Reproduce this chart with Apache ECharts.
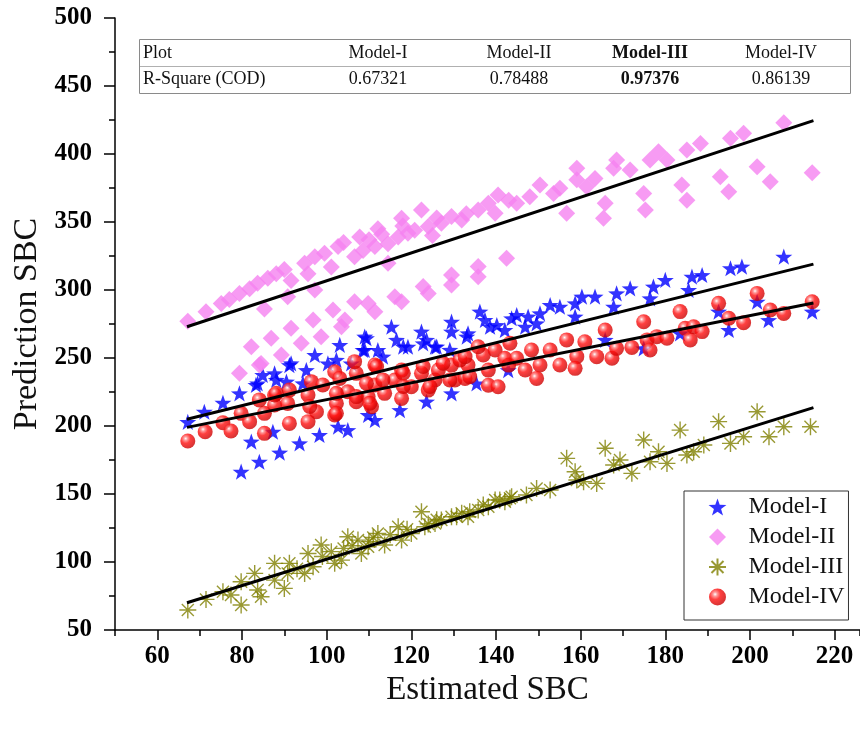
<!DOCTYPE html>
<html>
<head>
<meta charset="utf-8">
<script src="https://cdn.jsdelivr.net/npm/echarts@6/dist/echarts.min.js"></script>
<style>html,body{margin:0;padding:0;background:#fff}#c{width:860px;height:729px}</style>
</head>
<body>
<div id="c"></div>
<script>
// ---- data ----
const seriesNames = ['Model-I', 'Model-II', 'Model-III', 'Model-IV'];
const xTickLabels = [60, 80, 100, 120, 140, 160, 180, 200, 220];
const tableHeader = ['Plot', 'Model-I', 'Model-II', 'Model-III', 'Model-IV'];
const tableRSquare = ['R-Square (COD)', '0.67321', '0.78488', '0.97376', '0.86139'];

const model1 = [[67.2,203],[71.1,210.5],[75.5,217.1],[79.4,224],[79.8,166.4],[84.1,173.7],[82.2,188.5],[88.9,180.4],[93.6,187.2],[98.3,193.4],[102.7,199.5],[105,197],[87.3,195.8],[83.7,231.3],[87.7,238.7],[91.2,244.8],[95.2,241.1],[90.5,232.6],[111.4,204.4],[109.8,208.1],[117.3,211.7],[123.6,217.9],[129.5,224],[135.4,231.3],[142.9,241.1],
[91.6,246.1],[97.2,252.2],[103.1,259.6],[109,265.7],[109,255.9],[112.1,255.9],[115.3,273],[116.5,263.3],[119.2,258.3],[122.4,269.4],[122.8,260.8],[125.6,258.3],[129.5,276.7],[129.5,269.4],[133.4,268.1],[136.2,284.1],[137.4,278],[140.2,274.2],[142.1,270.6],[143.7,279.2],[100.3,246],[105.8,246],
[109.4,264.5],[84.9,237.5],[88.1,233.9],[83.3,230.2],[94.4,231.4],[102.3,248.6],[108.6,255.9],[113.3,251],[118.1,258.4],[123.6,263.3],[126,258.4],[129.1,256],[133.1,265.7],[138.6,273],
[144.9,281.6],[147.6,280.4],[146.9,273],[149.6,275.5],[150.4,282.8],[152.8,289],[155.1,287.7],[158.7,290.2],[160.3,295.1],[163.4,295.1],[158.7,280.4],[167.8,287.7],[168.5,297.5],[171.7,301.2],[176.4,293.9],[177.2,302.5],[180,307.4],[185.5,300],[186.3,309.8],[188.7,311],[195.4,316],[198.1,317.2],[208,324.5],
[165.8,263.3],[174.9,257.1],[183.5,268.1],[195,270.6],[201.7,291.4],[204.4,277.9],[214.7,284.1],[192.6,284.1]];

const model2 = [[67.2,277],[71.5,284],[75.1,290],[77,293],[79.4,297.5],[81.8,301],[83.7,305],[86.1,308.6],[88.1,312],[90,315],[91.6,307],[90.8,295],[85.3,286],[94.8,319.6],[97.2,324.5],[99.5,327],[102.7,332],[101.1,317],[95.6,312],[97.2,300],[107.8,339],[106.6,324.5],[108.6,329],[112.1,345],[111.4,332],[114.5,334],[114.5,319.6],[117.7,352.7],[116.9,339],[119.2,341.7],[122.4,358.8],[120.8,344],[124,346.6],[127.1,349],[129.5,354],[131.9,351.5],[135.8,358.8],[138.2,363.7],[140.5,369.8],[143,366],[139.8,356.4],
[104,335],[110,337],[113,341],[118,347],[126,353],[133,356],[125,340],
[82.2,258.3],[86.9,264.5],[84.5,246],[91.6,271.8],[89.3,252.2],[94,260.8],[96.8,278],[98.7,265.7],[101.5,285.3],[103.5,273],[104.3,278],[106.6,291.4],[109.8,290],[111.4,284],[116.1,295],[117.7,291.4],[122.8,302.5],[124,297.5],[129.5,311],[129.5,303.7],[135.8,317.2],[135.8,309.8],[142.5,323.3],[79.4,238.7],[84.1,244.8],
[144.9,363.7],[148,368.6],[150.4,377.2],[153.6,371],[155.1,374.8],[156.7,356.4],[159.1,389.5],[159.1,381],[161.4,376],[163.4,382],[165.4,352.7],[165.8,363.7],[167.8,389.5],[168.5,395.6],[171.7,388.2],[174.9,371],[175.3,358.8],[176.4,395.6],[178.4,401.7],[180.4,395.6],[183.9,377.2],[185.1,366],[185.1,403],[188.3,407.8],[193,383.3],[195,372.3],[195.4,411.5],[198.5,415.2],[201.7,390.7],[204.8,379.6],[208,423],[214.7,386.3]];

const model3 = [[67.2,64.7],[71.5,72.5],[75.5,78.2],[77.4,75.7],[79.8,68.4],[79.8,85.5],[83.7,79.4],[84.5,74.5],[83,91.6],[87.7,99],[87.7,86.7],[90,80.6],[90.8,91.6],[91.2,99],[94.8,91.6],[95.6,106.3],[96.8,96.5],[98.7,112.5],[101.1,107.6],[101.9,99],[103.5,101.4],[105,118.6],[107.4,116.1],[108.2,106.3],[109.8,111.2],[112.1,121],[113.7,112.5],[116.9,125.9],[117.7,116.1],[120,121],[122.4,137],[123.2,125.9],[125.6,128.4],[127.1,130.9],[129.5,133.3],[131.9,135.8],[133.4,133.3],[135.8,138.2],[138.2,140.7],[139.8,145.6],[142.1,144.3],[143.7,148],
[93,95],[99,104],[104,110],[110,115],[115,120],[119,124],[126,131],[111,118],[106,112],[124,128],
[156.7,176.2],[158.7,166.4],[160.7,159],[165.8,183.6],[167.8,171.3],[169.3,175],[172.1,165.2],[174.9,189.7],[176.4,173.7],[178.4,181.1],[180.4,172.5],[183.5,197],[185.1,178.7],[186.7,181.1],[189.1,186],[192.6,203.2],[195.4,187.2],[198.5,192.1],[201.7,210.5],[204.5,192.1],[208,199.5],[214.3,199.5],
[152.8,152.9],[147.2,149.3],[149.6,154.1],[143.3,146.8],[140.9,145.6],[137,141.9],[133.8,137],[130.7,133.3],[163.8,157.8],[159.1,160.3]];

const model4 = [[67.2,189],[71.3,195.8],[75.5,202.4],[77.4,196.3],[79.8,209.3],[81.8,203.2],[85.3,194.6],[85.3,209.3],[87.7,215.4],[87.7,222.8],[91.2,201.9],[90.8,216.6],[91.2,226.4],[95.6,203.2],[95.6,222.8],[96.4,232.6],[97.6,210.5],[99.1,230.1],[101.9,208.1],[102.3,216.6],[101.9,239.9],[103.1,235],[105,225.2],[107,217.9],[107,238.7],[110.6,214.2],[109.8,221.5],[111.4,230.1],[111.4,244.8],[113.7,224],[116.1,233.8],[117.7,220.3],[117.7,241.1],[120,228.9],[122.4,238.7],[124,226.4],[125.6,233.8],[126.4,241.1],[129.5,244.8],[130.3,233.8],[132.7,235],[133.4,244.8],[138.2,230],[140.5,228.9],[138.2,241.1],[143,244.8],[106.6,247.3],
[111.8,243.7],[118.1,238.8],[122.8,243.7],[127.5,246.1],[131.5,248.6],[137,252.2],[88.1,224],[84.1,219.2],[109.4,231.4],[113.3,233.9],[118.1,229],[124.4,229],[129.1,233.9],[133.8,236.3],[102.3,224],[107,221.6],[110.2,216.7],[96,214.3],[102.3,209.3],
[132.7,251],[135.8,258.3],[139.8,255.9],[142.1,249.8],
[143.3,260.8],[144.9,249.8],[148.4,255.9],[152.8,255.9],[150.4,244.9],[156.7,263.3],[155.1,244.9],[159.1,251],[161,262],[163.8,251],[165.8,270.6],[167.4,249.8],[168.5,257.1],[172.1,257.8],[174.9,276.7],[175.7,263.3],[176.4,255.9],[178,265.7],[180.4,264.5],[183.5,284.1],[184.7,271.8],[185.9,263.3],[186.7,273],[188.7,269.4],[192.6,290.2],[195,279.2],[198.5,276],[201.7,297.5],[204.8,285.3],[208,282.8],[214.7,291.4],
[146.9,241.2],[149.6,235],[158.7,242.4]];

// fitted regression lines (end points)
const fitX = [67, 215];
const fit1 = [205, 319];
const fit2 = [273, 424.5];
const fit3 = [70, 213.5];
const fit4 = [199, 290.5];

// ---- styling ----
const FONT = "'Liberation Serif','Times New Roman',serif";
const starPath = 'path://M0,-10L2.35,-3.24L9.51,-3.09L3.8,1.24L5.88,8.09L0,4L-5.88,8.09L-3.8,1.24L-9.51,-3.09L-2.35,-3.24Z';
const diamondPath = 'path://M10,0L20,10L10,20L0,10Z';
const asteriskPath = 'path://M10,0L10,20M0,10L20,10M2.93,2.93L17.07,17.07M2.93,17.07L17.07,2.93';
const sphere = {type:'radial', x:0.36, y:0.34, r:0.7, colorStops:[
  {offset:0, color:'#ffffff'},{offset:0.18, color:'#ff8080'},{offset:0.45, color:'#ff1010'},{offset:1, color:'#c80000'}]};

function fitLine(fy) { return fitX.map((x, i) => [x, fy[i]]); }

const chart = echarts.init(document.getElementById('c'), null, {renderer:'canvas'});

const colX = [143, 378, 519, 650, 781];
const tableGraphics = [
  {type:'rect', shape:{x:139.5, y:39.5, width:711, height:54}, style:{fill:'#fff', stroke:'#8a8a8a', lineWidth:1}, z:100},
  {type:'line', shape:{x1:140, y1:66.5, x2:850, y2:66.5}, style:{stroke:'#b0b0b0', lineWidth:1}, z:100}
];
[tableHeader, tableRSquare].forEach((row, r) => {
  row.forEach((t, c) => {
    tableGraphics.push({type:'text', x:colX[c], y: r === 0 ? 53 : 79, z:101,
      style:{text:t, fill:'#111', font:(c===3?'bold ':'') + '18px ' + FONT,
        align: c===0 ? 'left' : 'center', verticalAlign:'middle'}});
  });
});

const option = {
  animation:false,
  backgroundColor:'#fff',
  grid:{left:115, right:0, top:18, bottom:99, containLabel:false},
  xAxis:[{
    type:'value', min:50, max:226, interval:10,
    name:'Estimated SBC', nameLocation:'middle', nameGap:40,
    nameTextStyle:{fontFamily:FONT, fontSize:33, color:'#111'},
    axisLine:{show:true, lineStyle:{color:'#000', width:1.5}},
    axisTick:{show:true, length:10, lineStyle:{color:'#000', width:1.5}, customValues:xTickLabels},
    axisLabel:{show:true, customValues:xTickLabels, margin:14, fontFamily:FONT, fontWeight:'bold', fontSize:25, color:'#000'},
    splitLine:{show:false}
  },{
    type:'value', min:50, max:226, interval:10, position:'bottom',
    axisLine:{show:false},
    axisTick:{show:true, length:6, lineStyle:{color:'#000', width:1.5}},
    axisLabel:{show:false}, splitLine:{show:false}
  }],
  yAxis:{
    type:'value', min:50, max:500, interval:50,
    name:'Prediction SBC', nameLocation:'middle', nameGap:66,
    nameTextStyle:{fontFamily:FONT, fontSize:34, color:'#111'},
    axisLine:{show:true, lineStyle:{color:'#000', width:1.5}},
    axisTick:{show:true, length:11, lineStyle:{color:'#000', width:1.5}},
    minorTick:{show:true, splitNumber:2, length:6, lineStyle:{color:'#000', width:1.5}},
    axisLabel:{margin:23, fontFamily:FONT, fontWeight:'bold', fontSize:25, color:'#000'},
    splitLine:{show:false}
  },
  legend:{
    data:seriesNames, orient:'vertical', left:684, top:491,
    itemWidth:52, itemHeight:17, itemGap:6,
    padding:[4,4,11,24],
    backgroundColor:'#fff', borderColor:'#333', borderWidth:1,
    textStyle:{fontFamily:FONT, fontSize:24, color:'#111'},
    symbolKeepAspect:true, z:110
  },
  graphic:tableGraphics,
  series:[
    {name:'Model-I', type:'scatter', data:model1, symbol:starPath, symbolSize:17, symbolKeepAspect:true,
      itemStyle:{color:'#0000ff'}, z:2},
    {name:'Model-II', type:'scatter', data:model2, symbol:diamondPath, symbolSize:17, symbolKeepAspect:true,
      itemStyle:{color:'#f582f0'}, z:2},
    {name:'Model-III', type:'scatter', data:model3, symbol:asteriskPath, symbolSize:17, symbolKeepAspect:true,
      itemStyle:{color:'rgba(0,0,0,0)', borderColor:'#808000', borderWidth:1.4}, z:2},
    {name:'Model-IV', type:'scatter', data:model4, symbol:'circle', symbolSize:15,
      itemStyle:{color:sphere}, z:3},
    {type:'line', data:fitLine(fit1), symbol:'none', lineStyle:{color:'#000', width:3}, z:5, silent:true},
    {type:'line', data:fitLine(fit2), symbol:'none', lineStyle:{color:'#000', width:3}, z:5, silent:true},
    {type:'line', data:fitLine(fit3), symbol:'none', lineStyle:{color:'#000', width:3}, z:5, silent:true},
    {type:'line', data:fitLine(fit4), symbol:'none', lineStyle:{color:'#000', width:3}, z:5, silent:true}
  ]
};
chart.setOption(option);
</script>
</body>
</html>
